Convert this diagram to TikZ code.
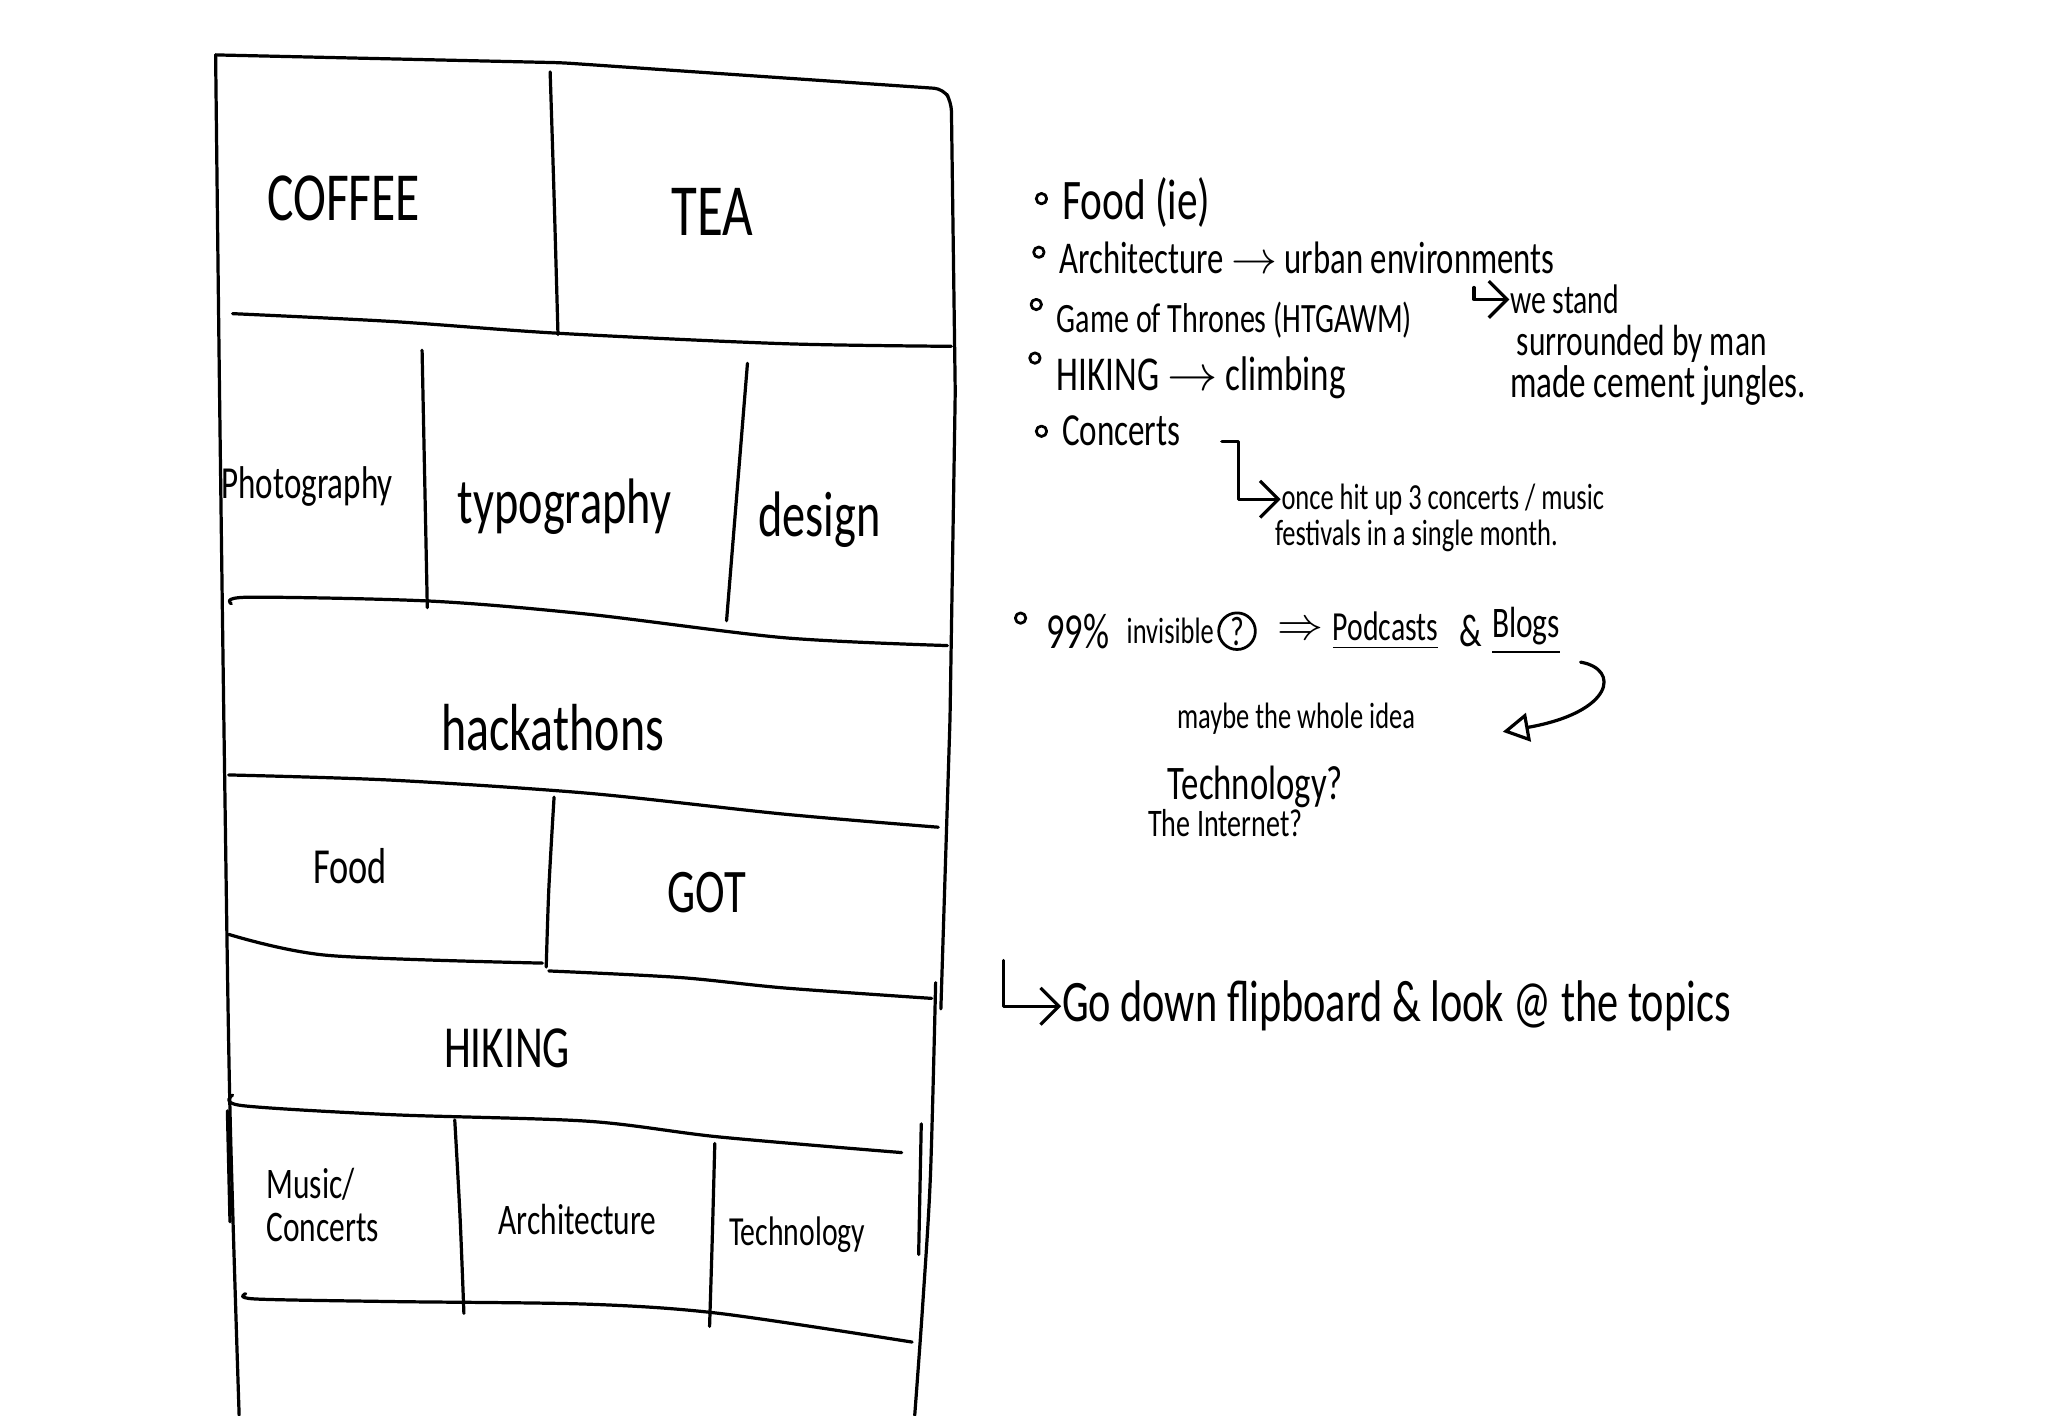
\documentclass[tikz,border=0pt]{standalone}
\usepackage{fontspec}
\setmainfont[FakeStretch=0.72]{Carlito}
\usetikzlibrary{positioning}
\usetikzlibrary{arrows.meta}

\begin{document}
\begin{tikzpicture}[x=0.1mm, y=-0.1mm, line cap=round, line join=round,
    pen/.style={line width=0.7pt},
    hand/.style={font=\fontsize{#1}{#1}\selectfont, inner sep=0pt},
    note/.style={hand=#1, anchor=west},
    bullet/.style={circle, draw, line width=0.6pt, minimum size=0.8mm, inner sep=0pt},
    >={Straight Barb[length=1.4mm]}]
    \useasboundingbox (0,0) rectangle (1568,1083);

    % Flipboard column: outer frame
    \draw[pen] plot[smooth] coordinates {(165,42) (168,300) (172,600) (176,850) (183,1083)};
    \draw[pen, rounded corners=2pt] (165,42) -- (430,48) -- (722,68) -- (728,78) -- (731,300) -- (727,550) -- (720,772);
    \draw[pen] plot[smooth] coordinates {(716,752) (712,900) (706,1000) (700,1083)};
    \draw[pen] (174,850) -- (176,935);
    \draw[pen] (705,860) -- (703,960);

    % Row dividers
    \draw[pen] plot[smooth] coordinates {(178,240) (300,246) (427,255) (600,263) (728,265)};
    \draw[pen] plot[smooth] coordinates {(177,462) (190,457) (330,460) (450,470) (600,488) (725,494)};
    \draw[pen] plot[smooth] coordinates {(175,593) (300,597) (450,607) (600,623) (718,633)};
    \draw[pen] plot[smooth] coordinates {(175,715) (250,731) (415,737)};
    \draw[pen] plot[smooth] coordinates {(420,743) (520,748) (600,756) (713,764)};
    \draw[pen] plot[smooth] coordinates {(178,838) (185,846) (300,853) (450,858) (550,870) (690,882)};
    \draw[pen] plot[smooth] coordinates {(188,990) (195,994) (300,996) (450,998) (550,1005) (698,1027)};

    % Cell dividers
    \draw[pen] plot[smooth] coordinates {(421,55) (424,150) (427,256)};
    \draw[pen] (323,268) -- (327,465);
    \draw[pen] (572,278) -- (556,475);
    \draw[pen] plot[smooth] coordinates {(424,610) (420,680) (418,740)};
    \draw[pen] plot[smooth] coordinates {(348,857) (352,930) (355,1005)};
    \draw[pen] plot[smooth] coordinates {(547,875) (545,950) (543,1015)};

    % Topics in the column
    \node[hand=15] (coffee) at (263,152) {COFFEE};
    \node[hand=16] (tea) at (545,162) {TEA};
    \node[hand=10] (photo) at (235,372) {Photography};
    \node[hand=14] (typo) at (432,388) {typography};
    \node[hand=14] (design) at (627,398) {design};
    \node[hand=14.5] (hack) at (423,557) {hackathons};
    \node[hand=11] (foodbox) at (268,663) {Food};
    \node[hand=13.5] (gotbox) at (541,683) {GOT};
    \node[hand=13] (hikebox) at (388,802) {HIKING};
    \node[hand=9.5, align=left] (music) at (247,922) {Music/\\Concerts};
    \node[hand=9.5] (archbox) at (442,933) {Architecture};
    \node[hand=9] (techbox) at (610,945) {Technology};

    % Notes
    \node[bullet] (b1) at (797,152) {};
    \node[note=12.5] (food) at (812,155) {Food (ie)};
    \node[bullet] (b2) at (795,193) {};
    \node[note=9.9] (arch) at (810,197) {Architecture $\to$ urban environments};
    \node[bullet] (b3) at (793,233) {};
    \node[note=9.1] (got) at (808,245) {Game of Thrones (HTGAWM)};
    \node[bullet] (b4) at (792,274) {};
    \node[note=10.6] (hike) at (808,289) {HIKING $\to$ climbing};
    \node[bullet] (b5) at (797,330) {};
    \node[note=10] (concerts) at (812,330) {Concerts};

    \node[hand=9, anchor=base west] (stand1) at (1155,240) {we stand};
    \node[hand=9.5, anchor=base west] (stand2) at (1160,272) {surrounded by man};
    \node[hand=10, anchor=base west] (stand3) at (1155,304) {made cement jungles.};
    \coordinate (hookU) at (1128,220);
    \draw[pen, ->] (hookU) |- (stand1.west);

    \node[note=8] (hit1) at (980,382) {once hit up 3 concerts / music};
    \node[note=8] (hit2) at (975,410) {festivals in a single month.};
    \coordinate (hookC) at (935,338);
    \draw[pen, ->] (hookC) -- ++(13,0) |- (hit1.west);

    % 99% invisible line
    \node[bullet] (b6) at (781,473) {};
    \node[note=11] (nn) at (800,483) {99\%};
    \node[note=8, right=1.2mm of nn] (invis) {invisible};
    \node[circle, draw, line width=0.6pt, hand=9, inner sep=0.4pt, right=0.2mm of invis] (qmark) {?};
    \node[hand=10, right=1.5mm of qmark] (imp) {$\Rightarrow$};
    \node[note=9, right=0.6mm of imp] (podcasts) {\underline{Podcasts}};
    \node[note=10, right=1.5mm of podcasts] (amp) {\&};
    \node[note=9.5, right=0.6mm of amp] (blogs) {\underline{Blogs}};

    \node[note=8] (idea) at (900,550) {maybe the whole idea};
    \node[note=10.5] (tech) at (893,602) {Technology?};
    \node[note=8.5] (internet) at (878,630) {The Internet?};
    \coordinate (ideaTip) at (1150,560);
    \draw[pen, -{Triangle[open, length=2mm, width=2.2mm]}] ([xshift=1.5mm, yshift=-0.5mm]blogs.south east)
        .. controls (1240,512) and (1235,545) .. (ideaTip);

    \node[note=12.8] (flip) at (812,770) {Go down flipboard \& look @ the topics};
    \coordinate (hookF) at (768,735);
    \draw[pen, ->] (hookF) |- (flip.west);
\end{tikzpicture}
\end{document}
